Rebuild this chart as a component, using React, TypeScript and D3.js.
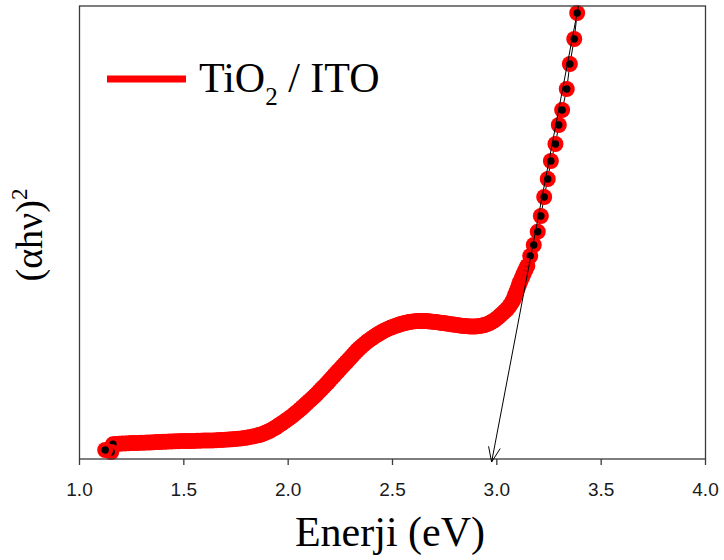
import React from 'react';
import * as d3 from 'd3';

// Photon energy (eV) of every measured point
const energy: number[] = [
  1.123, 1.152,
  1.160, 1.175, 1.190, 1.205, 1.220, 1.235, 1.250, 1.265, 1.280, 1.295,
  1.310, 1.325, 1.340, 1.355, 1.370, 1.385, 1.400, 1.415, 1.430, 1.445,
  1.460, 1.475, 1.490, 1.505, 1.520, 1.535, 1.550, 1.565, 1.580, 1.595,
  1.610, 1.625, 1.640, 1.655, 1.670, 1.685, 1.700, 1.715, 1.730, 1.745,
  1.760, 1.775, 1.790, 1.805, 1.820, 1.835, 1.850,
  1.86, 1.87, 1.88, 1.89, 1.90, 1.91, 1.92, 1.93, 1.94, 1.95,
  1.96, 1.97, 1.98, 1.99, 2.00, 2.01, 2.02, 2.03, 2.04, 2.05,
  2.06, 2.07, 2.08, 2.09, 2.10, 2.11, 2.12, 2.13, 2.14, 2.15,
  2.16, 2.17, 2.18, 2.19, 2.20, 2.21, 2.22, 2.23, 2.24, 2.25,
  2.26, 2.27, 2.28, 2.29, 2.30, 2.31, 2.32, 2.33, 2.34, 2.35,
  2.36, 2.37, 2.38, 2.39, 2.40, 2.41, 2.42, 2.43, 2.44, 2.45,
  2.46, 2.47, 2.48, 2.49, 2.50, 2.51, 2.52, 2.53, 2.54, 2.55,
  2.56, 2.57, 2.58, 2.59, 2.60, 2.61, 2.62, 2.63, 2.64, 2.65,
  2.66, 2.67, 2.68, 2.69, 2.70, 2.71, 2.72, 2.73, 2.74, 2.75,
  2.76, 2.77, 2.78, 2.79, 2.80, 2.81, 2.82, 2.83, 2.84, 2.85,
  2.86, 2.87, 2.88, 2.89, 2.90, 2.91, 2.92, 2.93, 2.94, 2.95,
  2.96, 2.97, 2.98, 2.99, 3.00, 3.01, 3.02, 3.03, 3.04,
  3.050, 3.061, 3.070, 3.077, 3.083, 3.088, 3.094, 3.100, 3.106, 3.112,
  3.120, 3.128, 3.137, 3.146, 3.160, 3.177, 3.196, 3.211, 3.227, 3.244,
  3.259, 3.281, 3.297, 3.313, 3.335, 3.350, 3.371, 3.385,
];

// (alpha h nu)^2, arbitrary units
const alphaHvSq: number[] = [
  9.0, 7.0,
  14.7, 15.0, 15.2, 15.4, 15.6, 15.7, 15.9, 16.0, 16.1, 16.2,
  16.3, 16.4, 16.5, 16.7, 16.9, 17.0, 17.2, 17.3, 17.5, 17.6,
  17.7, 17.8, 17.9, 17.9, 18.0, 18.0, 18.1, 18.2, 18.3, 18.4,
  18.4, 18.5, 18.6, 18.8, 18.9, 19.1, 19.3, 19.5, 19.7, 20.0,
  20.3, 20.6, 21.0, 21.5, 22.1, 22.8, 23.4,
  23.9, 24.5, 25.3, 26.2, 27.1, 28.0, 29.1, 30.3, 31.5, 32.9,
  34.3, 35.7, 37.1, 38.6, 40.1, 41.6, 43.2, 44.9, 46.6, 48.3,
  50.1, 52.0, 53.9, 55.8, 57.8, 59.7, 61.6, 63.6, 65.7, 67.8,
  70.0, 72.1, 74.3, 76.5, 78.8, 81.1, 83.5, 85.8, 88.0, 90.3,
  92.6, 94.8, 97.0, 99.3, 101.6, 103.9, 106.2, 108.5, 110.5, 112.3,
  114.1, 115.9, 117.6, 119.1, 120.6, 122.0, 123.4, 124.7, 126.0, 127.2,
  128.3, 129.3, 130.3, 131.2, 132.0, 132.8, 133.5, 134.2, 134.9, 135.5,
  136.0, 136.5, 136.9, 137.3, 137.6, 137.8, 138.0, 138.0, 138.1, 138.0,
  137.9, 137.7, 137.5, 137.3, 137.1, 136.9, 136.6, 136.3, 136.0, 135.7,
  135.4, 135.1, 134.8, 134.5, 134.2, 133.9, 133.6, 133.3, 133.1, 132.9,
  132.7, 132.6, 132.5, 132.5, 132.6, 132.8, 133.1, 133.5, 134.0, 134.6,
  135.4, 136.4, 137.6, 139.0, 140.6, 142.4, 144.3, 146.2, 148.2,
  150.0, 153.0, 155.8, 158.3, 161.0, 164.0, 167.3, 170.7, 174.0, 177.3,
  181.0, 185.0, 189.0, 193.0, 203.0, 214.0, 227.3, 243.0, 262.0, 280.0,
  298.0, 315.0, 334.0, 349.0, 370.0, 395.0, 420.0, 446.0,
];

const xTickValues: number[] = [1.0, 1.5, 2.0, 2.5, 3.0, 3.5, 4.0];

// Tangent (band-gap extrapolation) arrow: start and tip
const tangentEnergy: number[] = [3.391, 2.975];
const tangentValue: number[] = [453, -3];

const seriesLabel = ['TiO', '2', ' / ITO'];
const xTitle = 'Enerji (eV)';
const yTitle = ['(αhν)', '2'];

export default function App() {
  const W = 724;
  const H = 560;
  const left = 79.5, right = 705.5, top = 6, bottom = 459;

  const x = d3.scaleLinear().domain([1, 4]).range([left, right]);
  const y = d3.scaleLinear().domain([0, 453]).range([bottom, top]);

  const pts = energy.map((e, i) => ({ e, v: alphaHvSq[i] }));
  const drawOrder = pts.slice().sort((a, b) => b.e - a.e);
  const linePath = d3
    .line<{ e: number; v: number }>()
    .x((d) => x(d.e))
    .y((d) => y(d.v))(drawOrder) || '';

  // arrow
  const ax1 = x(tangentEnergy[0]);
  const ay1 = y(tangentValue[0]);
  const ax2 = x(tangentEnergy[1]);
  const ay2 = y(tangentValue[1]);
  const ang = Math.atan2(ay1 - ay2, ax1 - ax2);
  const L = 16;
  const spread = 0.38;
  const w1x = ax2 + L * Math.cos(ang + spread);
  const w1y = ay2 + L * Math.sin(ang + spread);
  const w2x = ax2 + L * Math.cos(ang - spread);
  const w2y = ay2 + L * Math.sin(ang - spread);

  const serif = '"Liberation Serif", "Times New Roman", serif';
  const sans = '"Liberation Sans", Arial, sans-serif';

  return (
    <svg
      width={W}
      height={H}
      style={{ position: 'absolute', left: 0, top: 0, background: '#fff' }}
    >
      <rect x={0} y={0} width={W} height={H} fill="#fff" />

      {/* connecting line */}
      <path d={linePath} fill="none" stroke="#000" strokeWidth={1} />

      {/* markers */}
      {drawOrder.map((d, i) => (
        <g key={i}>
          <circle cx={x(d.e)} cy={y(d.v)} r={8.0} fill="#ff0000" />
          <circle cx={x(d.e)} cy={y(d.v)} r={3.7} fill="#000" />
        </g>
      ))}

      {/* frame */}
      <rect
        x={left}
        y={top}
        width={right - left}
        height={bottom - top}
        fill="none"
        stroke="#3a3a3a"
        strokeWidth={1.3}
      />

      {/* x ticks */}
      {xTickValues.map((t) => (
        <g key={t}>
          <line x1={x(t)} x2={x(t)} y1={bottom} y2={bottom + 6} stroke="#3a3a3a" strokeWidth={1.3} />
          <text
            x={x(t)}
            y={496}
            textAnchor="middle"
            fontFamily={sans}
            fontSize={19}
            fill="#1a1a1a"
          >
            {t.toFixed(1)}
          </text>
        </g>
      ))}

      {/* tangent arrow */}
      <line x1={ax1} y1={ay1} x2={ax2} y2={ay2} stroke="#000" strokeWidth={1} />
      <line x1={ax2} y1={ay2} x2={w1x} y2={w1y} stroke="#000" strokeWidth={1} />
      <line x1={ax2} y1={ay2} x2={w2x} y2={w2y} stroke="#000" strokeWidth={1} />

      {/* axis titles */}
      <text x={390} y={546} textAnchor="middle" fontFamily={serif} fontSize={42} fill="#000">
        {xTitle}
      </text>
      <text
        transform="translate(42,235) rotate(-90)"
        textAnchor="middle"
        fontFamily={serif}
        fontSize={38}
        fill="#000"
      >
        {yTitle[0]}
        <tspan dy={-15} fontSize={23}>{yTitle[1]}</tspan>
      </text>

      {/* legend */}
      <line x1={107} x2={186} y1={79} y2={79} stroke="#ff0000" strokeWidth={7} />
      <text x={199} y={92} fontFamily={serif} fontSize={42} fill="#000">
        {seriesLabel[0]}
        <tspan dy={13} fontSize={25}>{seriesLabel[1]}</tspan>
        <tspan dy={-13}>{seriesLabel[2]}</tspan>
      </text>
    </svg>
  );
}
